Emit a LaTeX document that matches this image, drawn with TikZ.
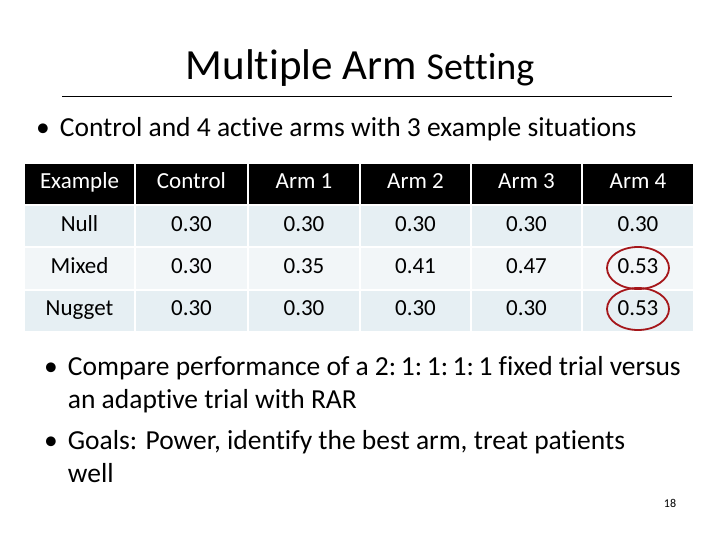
\documentclass[tikz,border=0pt]{standalone}
\usepackage{fontspec}
\setmainfont{Carlito}[Ligatures={NoCommon}]
\usetikzlibrary{shapes.geometric}
\definecolor{rowA}{HTML}{E6EFF3}
\definecolor{rowB}{HTML}{F2F6F8}
\definecolor{circ}{HTML}{A5161A}
\begin{document}
\begin{tikzpicture}[x=1pt,y=-1pt,
  cell/.style={inner sep=0pt, text height=14pt, text depth=4pt, font=\fontsize{23}{23}\selectfont},
  ring/.style={draw=circ,line width=1.8pt,ellipse,minimum width=62pt,minimum height=42pt},
  bul/.style={anchor=north west, font=\fontsize{27.5}{33}\selectfont, align=left, inner sep=0pt}]
\useasboundingbox[fill=white] (0,0) rectangle (720,540);
\node[font=\fontsize{43}{43}\selectfont] (title) at (360,68) {Multiple Arm \fontsize{38}{38}\selectfont Setting};
\draw[line width=0.6pt] (62,96) -- (672,96);
\node[bul,anchor=west] (b1) at (36,129) {•\hspace{10pt}Control and 4 active arms with 3 example situations};
% table
\foreach \ya/\yb/\col in {163/205/black,205/247/rowA,247/290/rowB,290/332/rowA}{
  \foreach \xa/\xb in {24/135,135/248,248/360,360/471,471/582,582/694}{
    \fill[\col] (\xa+1,\ya+1) rectangle (\xb-1,\yb-1);
  }
}
\foreach \t/\xm [count=\i] in {Example/79.5,Control/191.5,Arm 1/304,Arm 2/415.5,Arm 3/526.5,Arm 4/638}{
  \node[cell,text=white] (h\i) at (\xm,184) {\t};
}
\foreach \ym/\a/\b/\c/\d/\e/\f [count=\r] in {226/Null/0.30/0.30/0.30/0.30/0.30,268/Mixed/0.30/0.35/0.41/0.47/0.53,310/Nugget/0.30/0.30/0.30/0.30/0.53}{
  \node[cell] (r\r a) at (79.5,\ym) {\a};
  \node[cell] (r\r b) at (191.5,\ym) {\b};
  \node[cell] (r\r c) at (304,\ym) {\c};
  \node[cell] (r\r d) at (415.5,\ym) {\d};
  \node[cell] (r\r e) at (526.5,\ym) {\e};
  \node[cell] (r\r f) at (638,\ym) {\f};
}
\node[ring] (e1) at (638,268) {};
\node[ring] (e2) at (638,309) {};
\node[bul] (b2) at (44,356) {•\hspace{10pt}\parbox[t]{640pt}{Compare performance of a 2:\,1:\,1:\,1:\,1 fixed trial versus\\an adaptive trial with RAR}};
\node[bul] (b3) at (44,430) {•\hspace{10pt}\parbox[t]{640pt}{Goals: Power, identify the best arm, treat patients\\well}};
\node[font=\fontsize{12}{12}\selectfont] (pg) at (670,503) {18};
\end{tikzpicture}
\end{document}
